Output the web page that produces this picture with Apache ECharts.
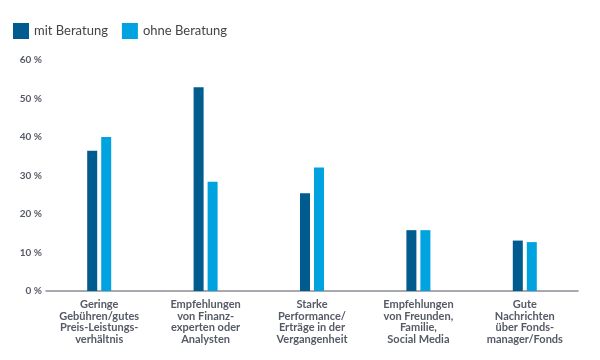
<!DOCTYPE html>
<html>
<head>
<meta charset="utf-8">
<script src="https://cdn.jsdelivr.net/npm/echarts@6/dist/echarts.min.js"></script>
<style>html,body{margin:0;padding:0;background:#fff}#c{width:600px;height:360px}</style>
</head>
<body>
<div id="c"></div>
<script>
var categories = [
  "Geringe\nGebühren/gutes\nPreis-Leistungs-\nverhältnis",
  "Empfehlungen\nvon Finanz-\nexperten oder\nAnalysten",
  "Starke\nPerformance/\nErträge in der\nVergangenheit",
  "Empfehlungen\nvon Freunden,\nFamilie,\nSocial Media",
  "Gute\nNachrichten\nüber Fonds-\nmanager/Fonds"
];
var seriesNames = ["mit Beratung", "ohne Beratung"];
var mitBeratung = [36.4, 52.9, 25.4, 15.8, 13.1];
var ohneBeratung = [40.0, 28.4, 32.1, 15.8, 12.7];
var yTicks = [0, 10, 20, 30, 40, 50, 60];

var chart = echarts.init(document.getElementById('c'));
var font = 'Lato, "Open Sans", sans-serif';
chart.setOption({
  animation: false,
  color: ['#005b8f', '#00a3e0'],
  legend: {
    left: 8, top: 18,
    itemWidth: 16, itemHeight: 16, itemGap: 14,
    icon: 'rect',
    textStyle: { fontFamily: font, fontSize: 13, color: '#444' },
    data: seriesNames
  },
  grid: { left: 46, right: 22, top: 60, bottom: 69 },
  xAxis: {
    type: 'category',
    data: categories,
    axisLine: { lineStyle: { color: '#8a8d94', width: 1.5 } },
    axisTick: { show: false },
    axisLabel: {
      interval: 0, margin: 8,
      fontFamily: font, fontWeight: 'bold', fontSize: 11, lineHeight: 11.5,
      color: '#555a66', align: 'center'
    }
  },
  yAxis: {
    type: 'value', min: 0, max: 60, interval: 10,
    splitLine: { show: false },
    axisLine: { show: false },
    axisTick: { show: false },
    axisLabel: {
      margin: 4,
      fontFamily: font, fontWeight: 'bold', fontSize: 10, color: '#555a66',
      formatter: function (v) { return yTicks.indexOf(v) >= 0 ? v + ' %' : ''; }
    }
  },
  series: [
    { name: seriesNames[0], type: 'bar', data: mitBeratung, barWidth: 10, barGap: '40%' },
    { name: seriesNames[1], type: 'bar', data: ohneBeratung, barWidth: 10, barGap: '40%' }
  ]
});
</script>
</body>
</html>
